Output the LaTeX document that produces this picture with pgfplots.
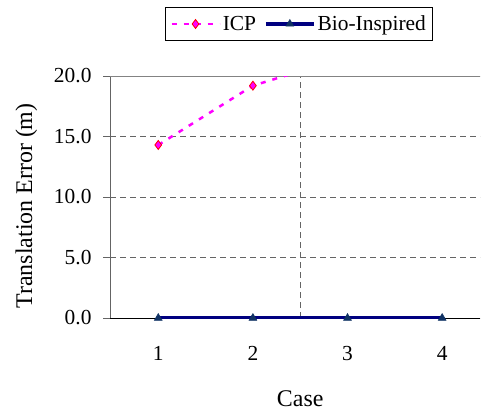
\documentclass[border=0pt]{standalone}
\usepackage{fontspec}
\setmainfont{Liberation Serif}
\usepackage{pgfplots}
\pgfplotsset{compat=1.18}
\definecolor{icp}{RGB}{255,0,255}
\definecolor{icpedge}{RGB}{255,0,0}
\definecolor{bio}{RGB}{0,0,128}
\definecolor{biomark}{RGB}{16,50,100}
\definecolor{gridc}{RGB}{100,100,100}
\begin{document}
\begin{tikzpicture}[x=1bp,y=1bp]
\useasboundingbox (0,0) rectangle (485,411);
\begin{axis}[
  at={(110bp,93bp)}, anchor=south west,
  scale only axis, width=370bp, height=242bp,
  font=\fontsize{21.5}{25}\selectfont,
  xmin=0.49, xmax=4.4, ymin=0, ymax=20,
  axis x line*=bottom, axis y line*=left,
  x axis line style={black, line width=0.8bp, -},
  y axis line style={gridc, line width=0.8bp, -},
  xtick={1,2,3,4}, xticklabels={1,2,3,4},
  major x tick style={draw=none},
  extra x ticks={2.5}, extra x tick labels={},
  extra x tick style={grid=major, major tick length=0pt, major grid style={gridc, line width=0.8bp, dash pattern=on 6bp off 4bp}},
  ytick={0,5,10,15,20},
  yticklabel style={xshift=-8bp, /pgf/number format/fixed, /pgf/number format/fixed zerofill, /pgf/number format/precision=1},
  /pgf/number format/assume math mode=true,
  ymajorgrids,
  major grid style={gridc, line width=0.8bp, dash pattern=on 6bp off 4bp},
  tick align=outside, major tick length=7bp,
  ytick style={gridc, line width=0.8bp},
  xticklabel style={yshift=-18bp},
  xlabel={Case}, ylabel={Translation Error (m)},
  xlabel style={font=\fontsize{24}{28}\selectfont, at={(axis description cs:0.514,-0.364)}, anchor=base, inner sep=0pt},
  ylabel style={font=\fontsize{24}{28}\selectfont, at={(axis description cs:-0.226,0.463)}, anchor=center, rotate=0},
  legend columns=2,
  legend style={at={(axis description cs:0.511,1.215)}, anchor=center, draw=black, line width=0.8bp, inner xsep=5bp, inner ysep=6.5bp, font=\fontsize{21.5}{25}\selectfont, /tikz/every even column/.append style={column sep=6bp}},
  legend image code/.code={\draw[#1] (0bp,0bp) -- (24bp,0bp) plot coordinates {(24bp,0bp)} -- (48bp,0bp);},
]
\draw[gridc!80, line width=0.8bp] (axis cs:0.49,20) -- (axis cs:4.4,20);
\draw[gridc, line width=0.8bp] (axis cs:0.49,0) -- ++(0,-7bp);
\addplot[icp, line width=2.5bp, dash pattern=on 5bp off 7bp, mark=diamond*, mark size=4.5bp, mark options={solid, fill=icp, draw=icpedge, line width=0.8bp}] coordinates {(1,14.3) (2,19.2) (3,21.6)};
\addlegendentry{ICP}
\addplot[bio, line width=3.5bp, mark=triangle*, mark size=4.5bp, mark options={solid, fill=biomark, draw=biomark, line width=0.5bp}] coordinates {(1,0) (2,0) (3,0) (4,0)};
\addlegendentry{Bio-Inspired}
\end{axis}
\end{tikzpicture}
\end{document}
